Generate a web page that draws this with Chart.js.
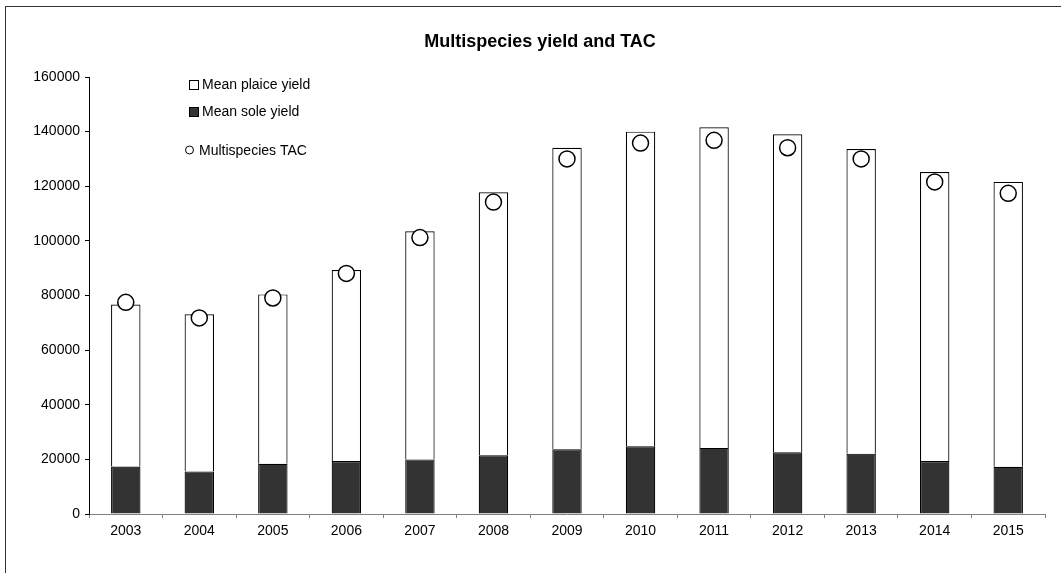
<!DOCTYPE html>
<html>
<head>
<meta charset="utf-8">
<script src="https://cdn.jsdelivr.net/npm/chart.js@4/dist/chart.umd.min.js"></script>
<style>
  body { margin: 0; background: #fff; }
</style>
</head>
<body>
<canvas id="yieldchart" width="1061" height="573"></canvas>
<script>
const years = ['2003', '2004', '2005', '2006', '2007', '2008', '2009', '2010', '2011', '2012', '2013', '2014', '2015'];
const soleYield = [17400, 15600, 18400, 19400, 20000, 21500, 23700, 24800, 24200, 22600, 22100, 19400, 17300];
const plaiceYield = [59300, 57500, 62000, 69900, 83500, 96300, 110400, 115200, 117400, 116400, 111500, 105800, 104300];
const multispeciesTac = [77500, 71800, 79100, 88100, 101200, 114200, 130000, 135800, 136800, 134100, 130000, 121600, 117400];
const yTicks = [0, 20000, 40000, 60000, 80000, 100000, 120000, 140000, 160000];

const FONT = 'Liberation Sans, Arial, sans-serif';

// title, frame and the little legend inside the plot
const decorations = {
    id: 'decorations',
    afterDraw(chart) {
        const c = chart.ctx;
        c.save();
        c.strokeStyle = '#333';
        c.lineWidth = 1;
        c.strokeRect(5.5, 6.5, 1100, 600);

        c.fillStyle = '#000';
        c.textAlign = 'center';
        c.textBaseline = 'alphabetic';
        c.font = 'bold 18px ' + FONT;
        c.fillText('Multispecies yield and TAC', 540, 47);

        c.textAlign = 'left';
        c.font = '14px ' + FONT;
        c.lineWidth = 1;
        c.strokeStyle = '#000';
        c.fillStyle = '#fff';
        c.fillRect(189.5, 80.5, 9, 9);
        c.strokeRect(189.5, 80.5, 9, 9);
        c.fillStyle = '#333';
        c.fillRect(189.5, 107.5, 9, 9);
        c.strokeRect(189.5, 107.5, 9, 9);
        c.beginPath();
        c.arc(189.5, 150, 4, 0, Math.PI * 2);
        c.stroke();

        c.fillStyle = '#000';
        c.fillText('Mean plaice yield', 202, 89);
        c.fillText('Mean sole yield', 202, 116);
        c.fillText('Multispecies TAC', 199, 155);
        c.restore();
    }
};

const ctx = document.getElementById('yieldchart').getContext('2d');
const yieldchart = new Chart(ctx, {
    data: {
        labels: years,
        datasets: [
            {
                type: 'line',
                label: 'Multispecies TAC',
                data: multispeciesTac,
                stack: 'tac',
                showLine: false,
                pointRadius: 8,
                pointBackgroundColor: '#fff',
                pointBorderColor: '#000',
                pointBorderWidth: 1.5,
                order: 0
            },
            {
                type: 'bar',
                label: 'Mean sole yield',
                data: soleYield,
                stack: 'yield',
                backgroundColor: '#333333',
                borderColor: '#000',
                borderWidth: 1.2,
                barPercentage: 0.4,
                categoryPercentage: 1,
                order: 1
            },
            {
                type: 'bar',
                label: 'Mean plaice yield',
                data: plaiceYield,
                stack: 'yield',
                backgroundColor: '#fff',
                borderColor: '#000',
                borderWidth: 1.2,
                barPercentage: 0.4,
                categoryPercentage: 1,
                order: 1
            }
        ]
    },
    options: {
        responsive: false,
        animation: false,
        layout: {
            padding: { top: 77, right: 16, bottom: 0, left: 0 }
        },
        plugins: {
            legend: { display: false },
            title: { display: false },
            tooltip: { enabled: false }
        },
        scales: {
            x: {
                stacked: true,
                afterFit(scale) { scale.height = 59; },
                border: { display: true, color: '#808080', width: 1 },
                grid: {
                    offset: true,
                    drawOnChartArea: false,
                    drawTicks: true,
                    tickLength: 4,
                    color: '#808080'
                },
                ticks: {
                    color: '#000',
                    padding: 5,
                    maxRotation: 0,
                    font: { family: FONT, size: 14 }
                }
            },
            y: {
                stacked: true,
                min: 0,
                max: 160000,
                afterFit(scale) { scale.width = 89; },
                afterBuildTicks(scale) {
                    scale.ticks = yTicks.map(v => ({ value: v }));
                },
                border: { display: true, color: '#000', width: 1 },
                grid: {
                    drawOnChartArea: false,
                    drawTicks: true,
                    tickLength: 4,
                    color: '#000'
                },
                ticks: {
                    color: '#000',
                    padding: 5,
                    callback: v => String(v),
                    font: { family: FONT, size: 14 }
                }
            }
        }
    },
    plugins: [decorations]
});
</script>
</body>
</html>
